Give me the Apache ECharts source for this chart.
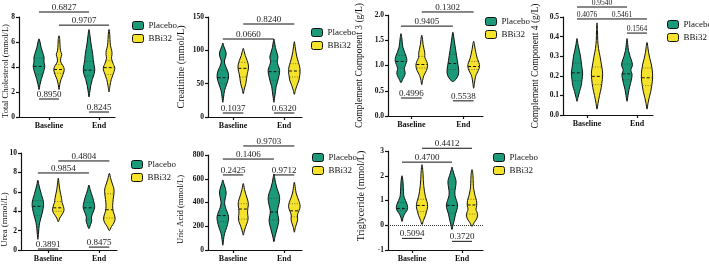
<!DOCTYPE html>
<html>
<head>
<meta charset="utf-8">
<script src="https://cdn.jsdelivr.net/npm/echarts@6/dist/echarts.min.js"></script>
<style>
html, body { margin: 0; padding: 0; background: #fff; }
#chart { width: 709px; height: 264px; }
</style>
</head>
<body>
<div id="chart"></div>
<script>
// categories / arms
const groups = ['Baseline', 'End'];
const arms = ['Placebo', 'BBi32'];
const armColors = ['#1b9a79', '#f4e22b'];

const panelNames = ['Total Cholesterol (mmol/L)', 'Creatinine (mmol/L)', 'Complement Component 3 (g/L)',
  'Complement Component 4 (g/L)', 'Urea (mmol/L)', 'Uric Acid (mmol/L)', 'Triglyceride (mmol/L)'];
const yMins = [0, 0, 0, 0, 0, 0, -1];
const yMaxs = [8, 150, 2, 0.5, 10, 800, 3];
const ySteps = [2, 50, 0.5, 0.1, 2, 200, 1];
const yDecimals = [0, 0, 1, 1, 0, 0, 0];

// violin profiles: [value, half width]  (Baseline, End)
const tcPlacebo = [
  [[2.2,0],[2.6,0.02],[3.0,0.045],[3.4,0.075],[3.8,0.105],[4.1,0.115],[4.4,0.1],[4.8,0.1],[5.2,0.07],[5.6,0.04],[6.0,0.02],[6.25,0]],
  [[1.6,0],[2.0,0.015],[2.5,0.035],[3.0,0.065],[3.4,0.1],[3.8,0.115],[4.2,0.1],[4.6,0.085],[5.0,0.075],[5.5,0.055],[6.0,0.035],[6.5,0.02],[7.0,0]]
];
const tcBBi32 = [
  [[2.2,0],[2.6,0.015],[3.0,0.04],[3.4,0.08],[3.8,0.105],[4.1,0.08],[4.4,0.035],[4.7,0.035],[5.0,0.055],[5.3,0.03],[5.8,0.02],[6.2,0.015],[6.5,0]],
  [[2.0,0],[2.5,0.02],[3.0,0.045],[3.4,0.08],[3.9,0.115],[4.3,0.08],[4.7,0.05],[5.0,0.06],[5.3,0.055],[5.7,0.03],[6.2,0.02],[6.6,0.015],[7.0,0]]
];
const tcQuart = [[[3.4,4.05,4.7],[3.3,3.75,4.45]], [[3.5,3.8,4.2],[3.4,3.95,4.5]]];
const tcPvals = [['0.6827',0.8,1.8,8.4],['0.9707',1.2,2.2,7.35],['0.8950',0.8,1.2,1.44],['0.8245',1.8,2.2,0.4]];

const crPlacebo = [
  [[22,0],[30,0.015],[40,0.035],[48,0.07],[55,0.1],[62,0.113],[70,0.09],[78,0.045],[84,0.03],[90,0.055],[96,0.065],[102,0.04],[107,0.015],[111,0]],
  [[22,0],[30,0.015],[38,0.03],[46,0.045],[54,0.075],[62,0.1],[70,0.113],[77,0.085],[83,0.065],[90,0.08],[96,0.06],[104,0.03],[111,0.015],[117,0]]
];
const crBBi32 = [
  [[35,0],[42,0.02],[50,0.05],[58,0.065],[65,0.08],[72,0.1],[78,0.1],[85,0.075],[92,0.04],[98,0.02],[103,0]],
  [[34,0],[40,0.02],[47,0.05],[54,0.085],[60,0.1],[68,0.113],[75,0.105],[82,0.08],[90,0.05],[98,0.03],[106,0.015],[113,0]]
];
const crQuart = [[[50,59,70],[55,68,84]], [[60,73,82],[60,69,80]]];
const crPvals = [['0.8240',1.2,2.2,139.5],['0.0660',0.8,1.8,117],['0.1037',0.8,1.2,6],['0.6320',1.8,2.2,6]];

const c3Placebo = [
  [[0.66,0],[0.72,0.03],[0.8,0.07],[0.86,0.08],[0.94,0.065],[1.02,0.09],[1.1,0.113],[1.18,0.1],[1.26,0.07],[1.35,0.04],[1.45,0.025],[1.55,0.015],[1.63,0]],
  [[0.68,0],[0.72,0.05],[0.8,0.1],[0.9,0.113],[1.0,0.1],[1.1,0.085],[1.2,0.07],[1.3,0.055],[1.4,0.04],[1.5,0.025],[1.58,0.015],[1.66,0]]
];
const c3BBi32 = [
  [[0.62,0],[0.7,0.015],[0.8,0.04],[0.9,0.09],[1.0,0.113],[1.08,0.095],[1.16,0.06],[1.24,0.06],[1.32,0.045],[1.42,0.025],[1.52,0.015],[1.6,0]],
  [[0.55,0],[0.65,0.015],[0.75,0.03],[0.82,0.05],[0.9,0.09],[0.98,0.113],[1.06,0.1],[1.14,0.07],[1.22,0.05],[1.32,0.03],[1.42,0.015],[1.48,0]]
];
const c3Quart = [[[0.95,1.08,1.2],[0.92,1.04,1.22]], [[0.95,1.02,1.18],[0.92,0.98,1.08]]];
const c3Pvals = [['0.1302',1.2,2.2,2.06],['0.9405',0.8,1.8,1.78],['0.4996',0.8,1.2,0.356],['0.5538',1.8,2.2,0.3]];

const c4Placebo = [
  [[0.07,0],[0.09,0.02],[0.12,0.05],[0.15,0.085],[0.18,0.1],[0.21,0.113],[0.24,0.1],[0.27,0.085],[0.3,0.07],[0.33,0.045],[0.36,0.02],[0.39,0]],
  [[0.07,0],[0.1,0.02],[0.13,0.04],[0.16,0.07],[0.19,0.095],[0.21,0.1],[0.23,0.075],[0.25,0.105],[0.27,0.1],[0.3,0.06],[0.33,0.03],[0.36,0.015],[0.39,0]]
];
const c4BBi32 = [
  [[0.03,0],[0.06,0.02],[0.1,0.05],[0.14,0.085],[0.18,0.105],[0.21,0.113],[0.24,0.1],[0.27,0.08],[0.3,0.06],[0.34,0.03],[0.38,0.015],[0.43,0.01],[0.47,0]],
  [[0.03,0],[0.06,0.02],[0.09,0.045],[0.12,0.075],[0.15,0.095],[0.19,0.113],[0.23,0.105],[0.26,0.085],[0.29,0.055],[0.32,0.03],[0.35,0.015],[0.37,0]]
];
const c4Quart = [[[0.175,0.215,0.265],[0.18,0.21,0.26]], [[0.155,0.197,0.245],[0.15,0.19,0.24]]];
const c4Pvals = [['0.9540',0.8,1.8,0.551],['0.4076',0.8,1.2,0.49],['0.5461',1.2,2.2,0.49],['0.1564',1.8,2.2,0.418]];

const ureaPlacebo = [
  [[1.1,0],[1.6,0.01],[2.2,0.02],[2.8,0.035],[3.3,0.06],[3.8,0.085],[4.3,0.105],[4.7,0.113],[5.2,0.1],[5.7,0.07],[6.2,0.045],[6.7,0.02],[7.2,0]],
  [[2.2,0],[2.6,0.03],[3.0,0.055],[3.4,0.05],[3.8,0.075],[4.2,0.105],[4.5,0.113],[4.9,0.1],[5.4,0.075],[5.8,0.05],[6.2,0.025],[6.7,0]]
];
const ureaBBi32 = [
  [[2.9,0],[3.3,0.03],[3.7,0.08],[4.1,0.113],[4.5,0.1],[4.9,0.075],[5.3,0.065],[5.7,0.05],[6.2,0.03],[6.8,0.015],[7.4,0]],
  [[2.0,0],[2.4,0.04],[2.8,0.09],[3.2,0.113],[3.6,0.1],[4.0,0.075],[4.6,0.065],[5.2,0.075],[5.8,0.09],[6.3,0.09],[6.8,0.06],[7.3,0.03],[7.9,0]]
];
const ureaQuart = [[[3.55,4.5,5.1],[3.2,4.35,4.9]], [[4.0,4.35,5.0],[3.3,4.15,5.8]]];
const ureaPvals = [['0.4804',1.2,2.2,9.18],['0.9854',0.8,1.8,7.94],['0.3891',0.8,1.2,0.1],['0.8475',1.8,2.2,0.3]];

const uaPlacebo = [
  [[40,0],[90,0.015],[140,0.035],[190,0.075],[240,0.105],[280,0.113],[320,0.085],[360,0.05],[400,0.035],[440,0.05],[480,0.065],[520,0.05],[560,0.02],[590,0]],
  [[70,0],[110,0.02],[160,0.05],[210,0.08],[250,0.095],[290,0.08],[330,0.07],[380,0.095],[430,0.113],[470,0.1],[520,0.06],[570,0.03],[610,0.015],[640,0]]
];
const uaBBi32 = [
  [[125,0],[160,0.02],[200,0.05],[240,0.085],[270,0.095],[310,0.085],[350,0.09],[390,0.1],[430,0.08],[470,0.05],[510,0.025],[560,0]],
  [[150,0],[190,0.02],[230,0.05],[260,0.065],[295,0.06],[330,0.09],[365,0.113],[400,0.1],[440,0.065],[480,0.035],[520,0.02],[570,0]]
];
const uaQuart = [[[240,290,385],[255,320,435]], [[260,345,390],[280,330,390]]];
const uaPvals = [['0.9703',1.2,2.2,876],['0.1406',0.8,1.8,766],['0.2425',0.8,1.2,632],['0.9712',1.8,2.2,632]];

const tgPlacebo = [
  [[0.15,0],[0.3,0.02],[0.45,0.05],[0.6,0.1],[0.72,0.113],[0.85,0.1],[1.0,0.07],[1.15,0.04],[1.35,0.03],[1.55,0.025],[1.75,0.02],[2.0,0]],
  [[-0.17,0],[0.0,0.02],[0.2,0.045],[0.45,0.07],[0.65,0.1],[0.8,0.113],[1.0,0.09],[1.2,0.06],[1.4,0.06],[1.6,0.075],[1.8,0.08],[2.0,0.05],[2.2,0.02],[2.35,0]]
];
const tgBBi32 = [
  [[0.03,0],[0.2,0.03],[0.4,0.07],[0.55,0.09],[0.75,0.113],[0.95,0.1],[1.15,0.07],[1.35,0.05],[1.6,0.035],[1.85,0.025],[2.1,0.02],[2.45,0]],
  [[-0.05,0],[0.1,0.04],[0.25,0.09],[0.42,0.113],[0.55,0.095],[0.65,0.08],[0.8,0.095],[1.0,0.09],[1.2,0.06],[1.45,0.035],[1.7,0.025],[2.0,0.02],[2.25,0]]
];
const tgQuart = [[[0.6,0.68,0.92],[0.48,0.8,1.45]], [[0.55,0.8,1.05],[0.45,0.82,1.05]]];
const tgPvals = [['0.4412',1.2,2.2,3.11],['0.4700',0.8,1.8,2.55],['0.5094',0.8,1.2,-0.53],['0.3720',1.8,2.2,-0.65]];

// layout (pixels): [left, top, right, bottom] of each plot box
const boxes = [[19,17,115,117],[208,17,302,117],[388,15,483,116],[563,17,653,115],
               [21,153,117,250],[208,155,302,250],[388,151,483,250]];
const xRanges = [[0.4,2.32],[0.51,2.35],[0.55,2.38],[0.52,2.32],[0.47,2.35],[0.51,2.35],[0.52,2.42]];
const legendPos = [[132,21],[311,28],[485,17],[667,20],[131,160],[312,153],[493,153]];
const nameGaps = [8.5,21.5,23.5,22.5,11.5,22.5,21.5];
const nameSizes = [8.5,10,9.5,9.5,9,8.5,10];
const nameShifts = [4, 0, 0, 0, 18, 7, -4.5];   // px downward along the axis
const pSizes = [9,9,9,7.5,9,9,9];
const armOffsets = [-0.2, 0.2];

const FONT = '"Liberation Serif", "Times New Roman", serif';

const panels = [
  [tcPlacebo, tcBBi32, tcQuart, tcPvals],
  [crPlacebo, crBBi32, crQuart, crPvals],
  [c3Placebo, c3BBi32, c3Quart, c3Pvals],
  [c4Placebo, c4BBi32, c4Quart, c4Pvals],
  [ureaPlacebo, ureaBBi32, ureaQuart, ureaPvals],
  [uaPlacebo, uaBBi32, uaQuart, uaPvals],
  [tgPlacebo, tgBBi32, tgQuart, tgPvals]
];

function widthAt(prof, v) {
  for (let i = 1; i < prof.length; i++) {
    if (v <= prof[i][0]) {
      const a = prof[i - 1], b = prof[i];
      const t = (v - a[0]) / (b[0] - a[0]);
      return a[1] + (b[1] - a[1]) * t;
    }
  }
  return 0;
}

function drawViolin(api, prof, q, color) {
  const x = api.value(0);
  const right = prof.map(pt => api.coord([x + pt[1], pt[0]]));
  const left = prof.slice(1, -1).reverse().map(pt => api.coord([x - pt[1], pt[0]]));
  const children = [{
    type: 'polygon',
    shape: { points: right.concat(left), smooth: 0.35 },
    style: { fill: color, stroke: '#111', lineWidth: 1 }
  }];
  q.forEach((v, i) => {
    const w = widthAt(prof, v) * 0.95;
    const a = api.coord([x - w, v]), b = api.coord([x + w, v]);
    children.push({
      type: 'line',
      shape: { x1: a[0], y1: a[1], x2: b[0], y2: b[1] },
      style: i === 1
        ? { stroke: '#111', lineWidth: 1, lineDash: [3, 2] }
        : { stroke: '#333', lineWidth: 0.6, lineDash: [1, 1.5] }
    });
  });
  return { type: 'group', children };
}

const grids = [], xAxes = [], yAxes = [], series = [], legends = [];

panels.forEach((p, k) => {
  const b = boxes[k];
  const s = nameShifts[k];
  grids.push({ left: b[0], top: b[1], width: b[2] - b[0], height: b[3] - b[1], containLabel: false, outerBoundsMode: 'none' });
  xAxes.push({
    gridIndex: k, type: 'value', min: xRanges[k][0], max: xRanges[k][1],
    splitLine: { show: false },
    axisLine: { show: true, onZero: false, lineStyle: { color: '#111', width: 1.2 } },
    axisTick: { show: true, customValues: [1, 2], length: 3, lineStyle: { color: '#111', width: 1.2 } },
    axisLabel: { customValues: [1, 2], formatter: v => groups[Math.round(v) - 1], fontFamily: FONT, fontWeight: 'bold',
      fontSize: 8, color: '#111', margin: 5 }
  });
  yAxes.push({
    gridIndex: k, type: 'value', min: yMins[k], max: yMaxs[k], interval: ySteps[k],
    splitLine: { show: false },
    axisLine: { show: true, onZero: false, lineStyle: { color: '#111', width: 1.2 } },
    axisTick: { show: true, length: 3, lineStyle: { color: '#111', width: 1.2 } },
    axisLabel: { formatter: v => v.toFixed(yDecimals[k]), fontFamily: FONT, fontWeight: 'bold', fontSize: 7.5,
      color: '#111', margin: 4 },
    name: panelNames[k], nameLocation: 'middle', nameGap: nameGaps[k], nameMoveOverlap: false,
    nameTextStyle: { fontFamily: FONT, fontSize: nameSizes[k], color: '#111',
      padding: s >= 0 ? [0, 2 * s, 0, 0] : [0, 0, 0, -2 * s] }
  });
  arms.forEach((arm, a) => {
    const profs = p[a], quarts = p[2][a];
    series.push({
      type: 'custom', name: arm, xAxisIndex: k, yAxisIndex: k, clip: false,
      itemStyle: { color: armColors[a] },
      encode: { x: 0, y: 1 },
      data: groups.map((g, gi) => [gi + 1 + armOffsets[a], quarts[gi][1]]),
      renderItem: (params, api) => drawViolin(api, profs[params.dataIndex], quarts[params.dataIndex], armColors[a])
    });
  });
  const pv = p[3];
  const pvSeries = {
    type: 'custom', name: 'p', xAxisIndex: k, yAxisIndex: k, clip: false, silent: true,
    encode: { x: 0, y: 1 },
    data: pv.map(r => [r[1], r[3]]),
    renderItem: (params, api) => {
      const r = pv[params.dataIndex];
      const a = api.coord([r[1], r[3]]), c = api.coord([r[2], r[3]]);
      return {
        type: 'group', children: [
          { type: 'line', shape: { x1: a[0], y1: a[1], x2: c[0], y2: c[1] }, style: { stroke: '#111', lineWidth: 1 } },
          { type: 'text', x: (a[0] + c[0]) / 2, y: a[1],
            style: { text: r[0], font: pSizes[k] + 'px ' + FONT, fill: '#222', align: 'center', verticalAlign: 'bottom' } }
        ]
      };
    }
  };
  if (yMins[k] < 0) {
    pvSeries.markLine = { silent: true, symbol: 'none', label: { show: false },
      lineStyle: { type: 'dotted', color: '#333', width: 1 }, data: [{ yAxis: 0 }] };
  }
  series.push(pvSeries);
  legends.push({
    data: arms, orient: 'vertical', left: legendPos[k][0], top: legendPos[k][1],
    itemWidth: 11, itemHeight: 8, itemGap: 4, icon: 'roundRect', padding: 0, selectedMode: false,
    itemStyle: { borderColor: '#111', borderWidth: 1 },
    textStyle: { fontFamily: FONT, fontSize: 9, color: '#111' }
  });
});

const chart = echarts.init(document.getElementById('chart'));
chart.setOption({
  animation: false,
  backgroundColor: '#fff',
  grid: grids,
  xAxis: xAxes,
  yAxis: yAxes,
  legend: legends,
  series: series
});
</script>
</body>
</html>
